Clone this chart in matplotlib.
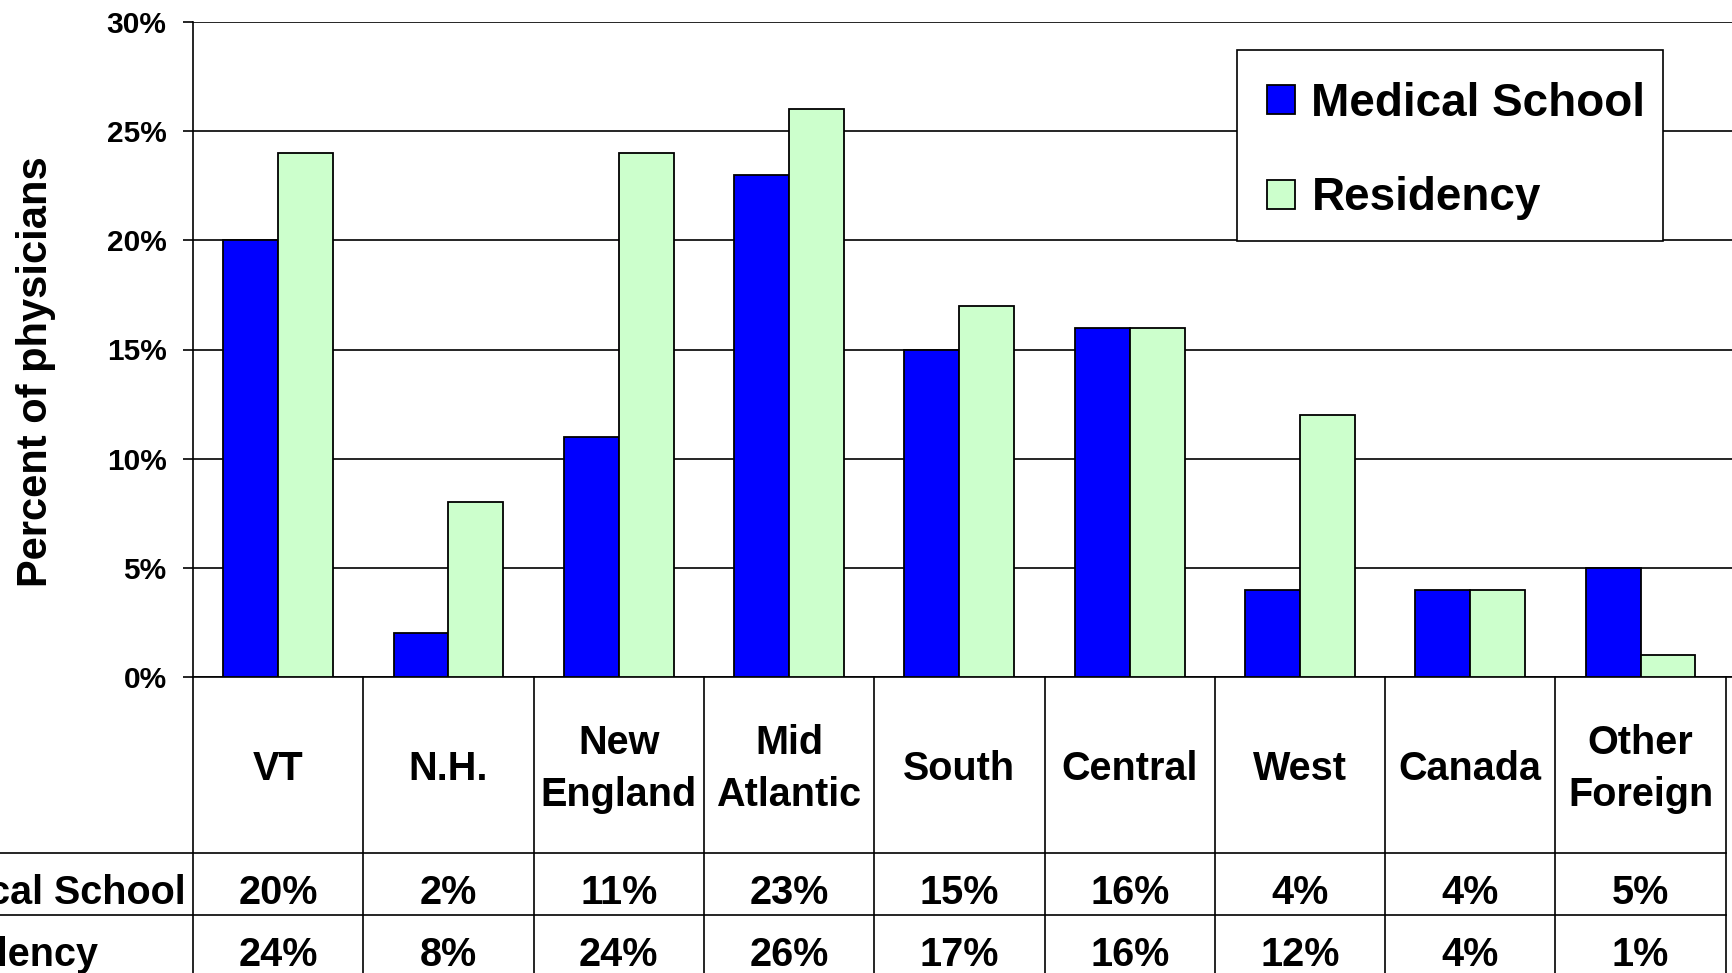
import matplotlib
matplotlib.use("Agg")
import matplotlib.pyplot as plt
from matplotlib.transforms import blended_transform_factory
from matplotlib.lines import Line2D
from matplotlib.patches import Rectangle
import numpy as np

categories = ["VT", "N.H.", "New\nEngland", "Mid\nAtlantic", "South", "Central", "West", "Canada", "Other\nForeign"]
medical_school = [20, 2, 11, 23, 15, 16, 4, 4, 5]
residency = [24, 8, 24, 26, 17, 16, 12, 4, 1]
series_names = ["Medical School", "Residency"]
yticks = [0, 5, 10, 15, 20, 25, 30]

plt.rcParams['font.family'] = ['Liberation Sans', 'DejaVu Sans']
plt.rcParams['font.weight'] = 'bold'

W, H = 1733, 973
fig = plt.figure(figsize=(W / 100, H / 100), dpi=100)

ax_left, ax_right = 193, 1733
ax_top, ax_bottom = 22, 677
ax = fig.add_axes([ax_left / W, 1 - ax_bottom / H, (ax_right - ax_left) / W, (ax_bottom - ax_top) / H])

colw = 170.3
x = np.arange(len(categories))
bw = 0.3225
ax.bar(x - bw / 2, medical_school, bw, color="#0000FF", edgecolor="black", linewidth=1.3, label=series_names[0], zorder=3)
ax.bar(x + bw / 2, residency, bw, color="#CCFFCC", edgecolor="black", linewidth=1.3, label=series_names[1], zorder=3)

ax.set_xlim(-0.5, -0.5 + (ax_right - ax_left) / colw)
ax.set_ylim(0, 30)
ax.set_yticks(yticks)
ax.set_yticklabels([f"{v}%" for v in yticks], fontsize=21.5, fontweight='bold')
ax.set_xticks([])
ax.yaxis.grid(True, color="black", linewidth=1.2, zorder=0)
ax.set_axisbelow(True)
for s in ["top", "right"]:
    ax.spines[s].set_visible(False)
ax.spines["left"].set_linewidth(1.2)
ax.spines["bottom"].set_linewidth(1.2)
ax.tick_params(axis="y", direction="out", length=7, width=1.2, pad=12)

fig.text(36 / W, 1 - 372 / H, "Percent of physicians", rotation=90, ha="center", va="center",
         fontsize=30, fontweight="bold")

# table below axes
tr = blended_transform_factory(ax.transData, fig.transFigure)
row1, row2 = 853, 915
ncat = len(categories)
for k in range(ncat + 1):
    fig.add_artist(Line2D([k - 0.5, k - 0.5], [1 - ax_bottom / H, 0], transform=tr, color="black", lw=1.2, clip_on=False))
for yy in (row1, row2):
    fig.add_artist(Line2D([0, (ax_left + (ncat) * colw) / W], [1 - yy / H, 1 - yy / H],
                          transform=fig.transFigure, color="black", lw=1.2, clip_on=False))

for i, c in enumerate(categories):
    fig.text(i, 1 - 769 / H, c, transform=tr, ha="center", va="center", fontsize=28.5,
             fontweight="bold", linespacing=1.45)
    fig.text(i, 1 - 893 / H, f"{medical_school[i]}%", transform=tr, ha="center", va="center",
             fontsize=28.5, fontweight="bold")
    fig.text(i, 1 - 955 / H, f"{residency[i]}%", transform=tr, ha="center", va="center",
             fontsize=28.5, fontweight="bold")

fig.text(186 / W, 1 - 893 / H, series_names[0], ha="right", va="center", fontsize=28.5, fontweight="bold")
fig.text(-100 / W, 1 - 955 / H, series_names[1], ha="left", va="center", fontsize=28.5, fontweight="bold")

# legend frame drawn separately for exact placement
lx0, ly0, lx1, ly1 = 1237, 50, 1663, 241
ax.add_patch(Rectangle((lx0 / W, 1 - ly1 / H), (lx1 - lx0) / W, (ly1 - ly0) / H, transform=fig.transFigure,
                       facecolor="white", edgecolor="black", linewidth=1.2, clip_on=False, zorder=4))
leg = ax.legend(loc="upper left", bbox_to_anchor=(1267.5 / W, 1 - 82 / H), bbox_transform=fig.transFigure,
                borderaxespad=0, frameon=False,
                prop={"size": 33, "weight": "bold"}, handlelength=0.6, handleheight=0.6,
                handletextpad=0.36, labelspacing=1.1, borderpad=0)
leg.set_zorder(5)

fig.savefig("out.png", dpi=100)
